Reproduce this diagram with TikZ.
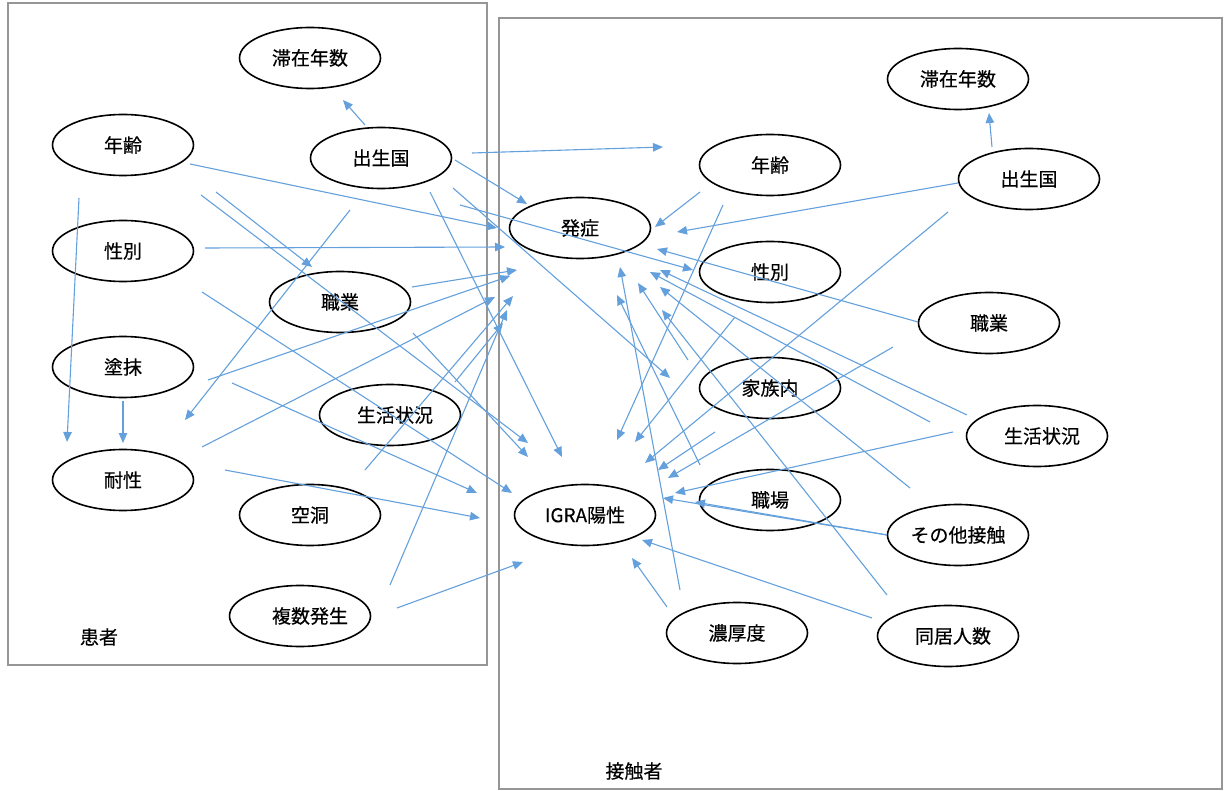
\documentclass[tikz,border=0pt]{standalone}
\usepackage{fontspec}
\newfontfamily\cjk[BoldFont=Noto Sans CJK JP,BoldFeatures={FakeBold=0.4}]{Noto Sans CJK JP}
\usetikzlibrary{shapes.geometric,arrows.meta}
\definecolor{lineblue}{RGB}{100,160,220}
\definecolor{framegray}{RGB}{150,150,150}
\newcommand{\jpfont}{\cjk\bfseries\fontsize{19}{22}\selectfont}

\begin{document}
\begin{tikzpicture}[x=1pt,y=-1pt,>={Triangle[length=10pt,width=8.5pt]},
	var/.style={ellipse,draw,line width=1.6pt,minimum width=141pt,minimum height=61pt,inner sep=0pt,font=\jpfont},
	arr/.style={lineblue,line width=1.1pt,->},
	frame/.style={draw=framegray,line width=1.6pt}]
	\useasboundingbox (0,0) rectangle (1229,791);
	
	%frames
	\draw[frame] (8,3) rectangle (487,665);
	\draw[frame] (499,18) rectangle (1222,789);
	\node[font=\jpfont] (patient) at (99,637) {患者};
	\node[font=\jpfont] (contact) at (634,771) {接触者};
	
	%patient variables
	\node[var] (stayL) at (310,58) {滞在年数};
	\node[var] (ageL) at (123,145) {年齢};
	\node[var] (birthL) at (381,158) {出生国};
	\node[var] (sexL) at (123,251) {性別};
	\node[var] (jobL) at (340,302) {職業};
	\node[var] (smear) at (123,367) {塗抹};
	\node[var] (lifeL) at (390,415) {\hspace{10pt}生活状況};
	\node[var] (resist) at (123,480) {耐性};
	\node[var] (cavity) at (310,515) {空洞};
	\node[var] (multi) at (300,616) {\hspace{20pt}複数発生};
	
	%contact variables
	\node[var] (onset) at (580,228) {発症};
	\node[var] (igra) at (585,515) {IGRA陽性};
	\node[var] (ageR) at (770,165) {年齢};
	\node[var] (sexR) at (770,272) {性別};
	\node[var] (family) at (770,388) {家族内};
	\node[var] (work) at (770,500) {職場};
	\node[var] (dense) at (737,633) {濃厚度};
	\node[var] (stayR) at (958,79) {滞在年数};
	\node[var] (birthR) at (1029,179) {出生国};
	\node[var] (jobR) at (989,323) {職業};
	\node[var] (lifeR) at (1037,436) {\hspace{10pt}生活状況};
	\node[var] (other) at (958,535) {その他接触};
	\node[var] (cohab) at (948,636) {\hspace{10pt}同居人数};
	
	%arrow ends, patient side
	\coordinate (a1) at (365,125); \coordinate (b1) at (343,100);
	\coordinate (a2) at (190,164); \coordinate (b2) at (497,228);
	\coordinate (a3) at (79,198); \coordinate (b3) at (67,442);
	\coordinate (a4) at (123,401); \coordinate (b4) at (123,443);
	\coordinate (a5) at (216,192); \coordinate (b5) at (312,267);
	\coordinate (a6) at (201,195); \coordinate (b6) at (528,443);
	\coordinate (a7) at (205,248); \coordinate (b7) at (505,247);
	\coordinate (a8) at (202,292); \coordinate (b8) at (512,493);
	\coordinate (a9) at (350,210); \coordinate (b9) at (185,420);
	\coordinate (a10) at (412,287); \coordinate (b10) at (517,270);
	\coordinate (a11) at (208,380); \coordinate (b11) at (510,276);
	\coordinate (a12) at (202,447); \coordinate (b12) at (495,297);
	\coordinate (a13) at (232,383); \coordinate (b13) at (477,493);
	\coordinate (a14) at (225,470); \coordinate (b14) at (480,518);
	\coordinate (a15) at (365,470); \coordinate (b15) at (513,296);
	\coordinate (a16) at (390,585); \coordinate (b16) at (507,310);
	\coordinate (a17) at (397,608); \coordinate (b17) at (523,562);
	\coordinate (a18) at (472,153); \coordinate (b18) at (663,147);
	\coordinate (a19) at (455,160); \coordinate (b19) at (527,204);
	\coordinate (a20) at (453,188); \coordinate (b20) at (670,378);
	\coordinate (a21) at (460,205); \coordinate (b21) at (693,270);
	\coordinate (a22) at (430,192); \coordinate (b22) at (562,457);
	\coordinate (a23) at (455,382); \coordinate (b23) at (503,323);
	\coordinate (a24) at (413,333); \coordinate (b24) at (528,457);
	
	%arrow ends, contact side
	\coordinate (c1) at (992,147); \coordinate (d1) at (989,113);
	\coordinate (c2) at (700,192); \coordinate (d2) at (655,227);
	\coordinate (c3) at (958,183); \coordinate (d3) at (677,232);
	\coordinate (c4) at (918,322); \coordinate (d4) at (657,249);
	\coordinate (c5) at (967,415); \coordinate (d5) at (660,270);
	\coordinate (c6) at (930,422); \coordinate (d6) at (650,272);
	\coordinate (c7) at (688,360); \coordinate (d7) at (638,283);
	\coordinate (c8) at (910,488); \coordinate (d8) at (660,287);
	\coordinate (c9) at (700,465); \coordinate (d9) at (617,295);
	\coordinate (c10) at (887,595); \coordinate (d10) at (662,310);
	\coordinate (c11) at (680,590); \coordinate (d11) at (620,267);
	\coordinate (c12) at (723,205); \coordinate (d12) at (617,440);
	\coordinate (c13) at (735,317); \coordinate (d13) at (635,442);
	\coordinate (c14) at (948,212); \coordinate (d14) at (645,463);
	\coordinate (c15) at (715,432); \coordinate (d15) at (658,470);
	\coordinate (c16) at (893,347); \coordinate (d16) at (668,478);
	\coordinate (c17) at (953,432); \coordinate (d17) at (675,493);
	\coordinate (c18) at (887,535); \coordinate (d18) at (663,498);
	\coordinate (d19) at (695,502);
	\coordinate (c20) at (872,618); \coordinate (d20) at (642,540);
	\coordinate (c21) at (667,607); \coordinate (d21) at (632,558);
	
	%arrows, patient side
	\draw[arr] (a1)--(b1); \draw[arr] (a2)--(b2); \draw[arr] (a3)--(b3);
	\draw[arr] (a4)--(b4); \draw[arr] (a5)--(b5); \draw[arr] (a6)--(b6);
	\draw[arr] (a7)--(b7); \draw[arr] (a8)--(b8); \draw[arr] (a9)--(b9);
	\draw[arr] (a10)--(b10); \draw[arr] (a11)--(b11); \draw[arr] (a12)--(b12);
	\draw[arr] (a13)--(b13); \draw[arr] (a14)--(b14); \draw[arr] (a15)--(b15);
	\draw[arr] (a16)--(b16); \draw[arr] (a17)--(b17); \draw[arr] (a18)--(b18);
	\draw[arr] (a19)--(b19); \draw[arr] (a20)--(b20); \draw[arr] (a21)--(b21);
	\draw[arr] (a22)--(b22); \draw[arr] (a23)--(b23); \draw[arr] (a24)--(b24);
	
	%arrows, contact side
	\draw[arr] (c1)--(d1); \draw[arr] (c2)--(d2); \draw[arr] (c3)--(d3);
	\draw[arr] (c4)--(d4); \draw[arr] (c5)--(d5); \draw[arr] (c6)--(d6);
	\draw[arr] (c7)--(d7); \draw[arr] (c8)--(d8); \draw[arr] (c9)--(d9);
	\draw[arr] (c10)--(d10); \draw[arr] (c11)--(d11); \draw[arr] (c12)--(d12);
	\draw[arr] (c13)--(d13); \draw[arr] (c14)--(d14); \draw[arr] (c15)--(d15);
	\draw[arr] (c16)--(d16); \draw[arr] (c17)--(d17); \draw[arr] (c18)--(d18);
	\draw[arr] (c18)--(d19); \draw[arr] (c20)--(d20); \draw[arr] (c21)--(d21);
\end{tikzpicture}
\end{document}
